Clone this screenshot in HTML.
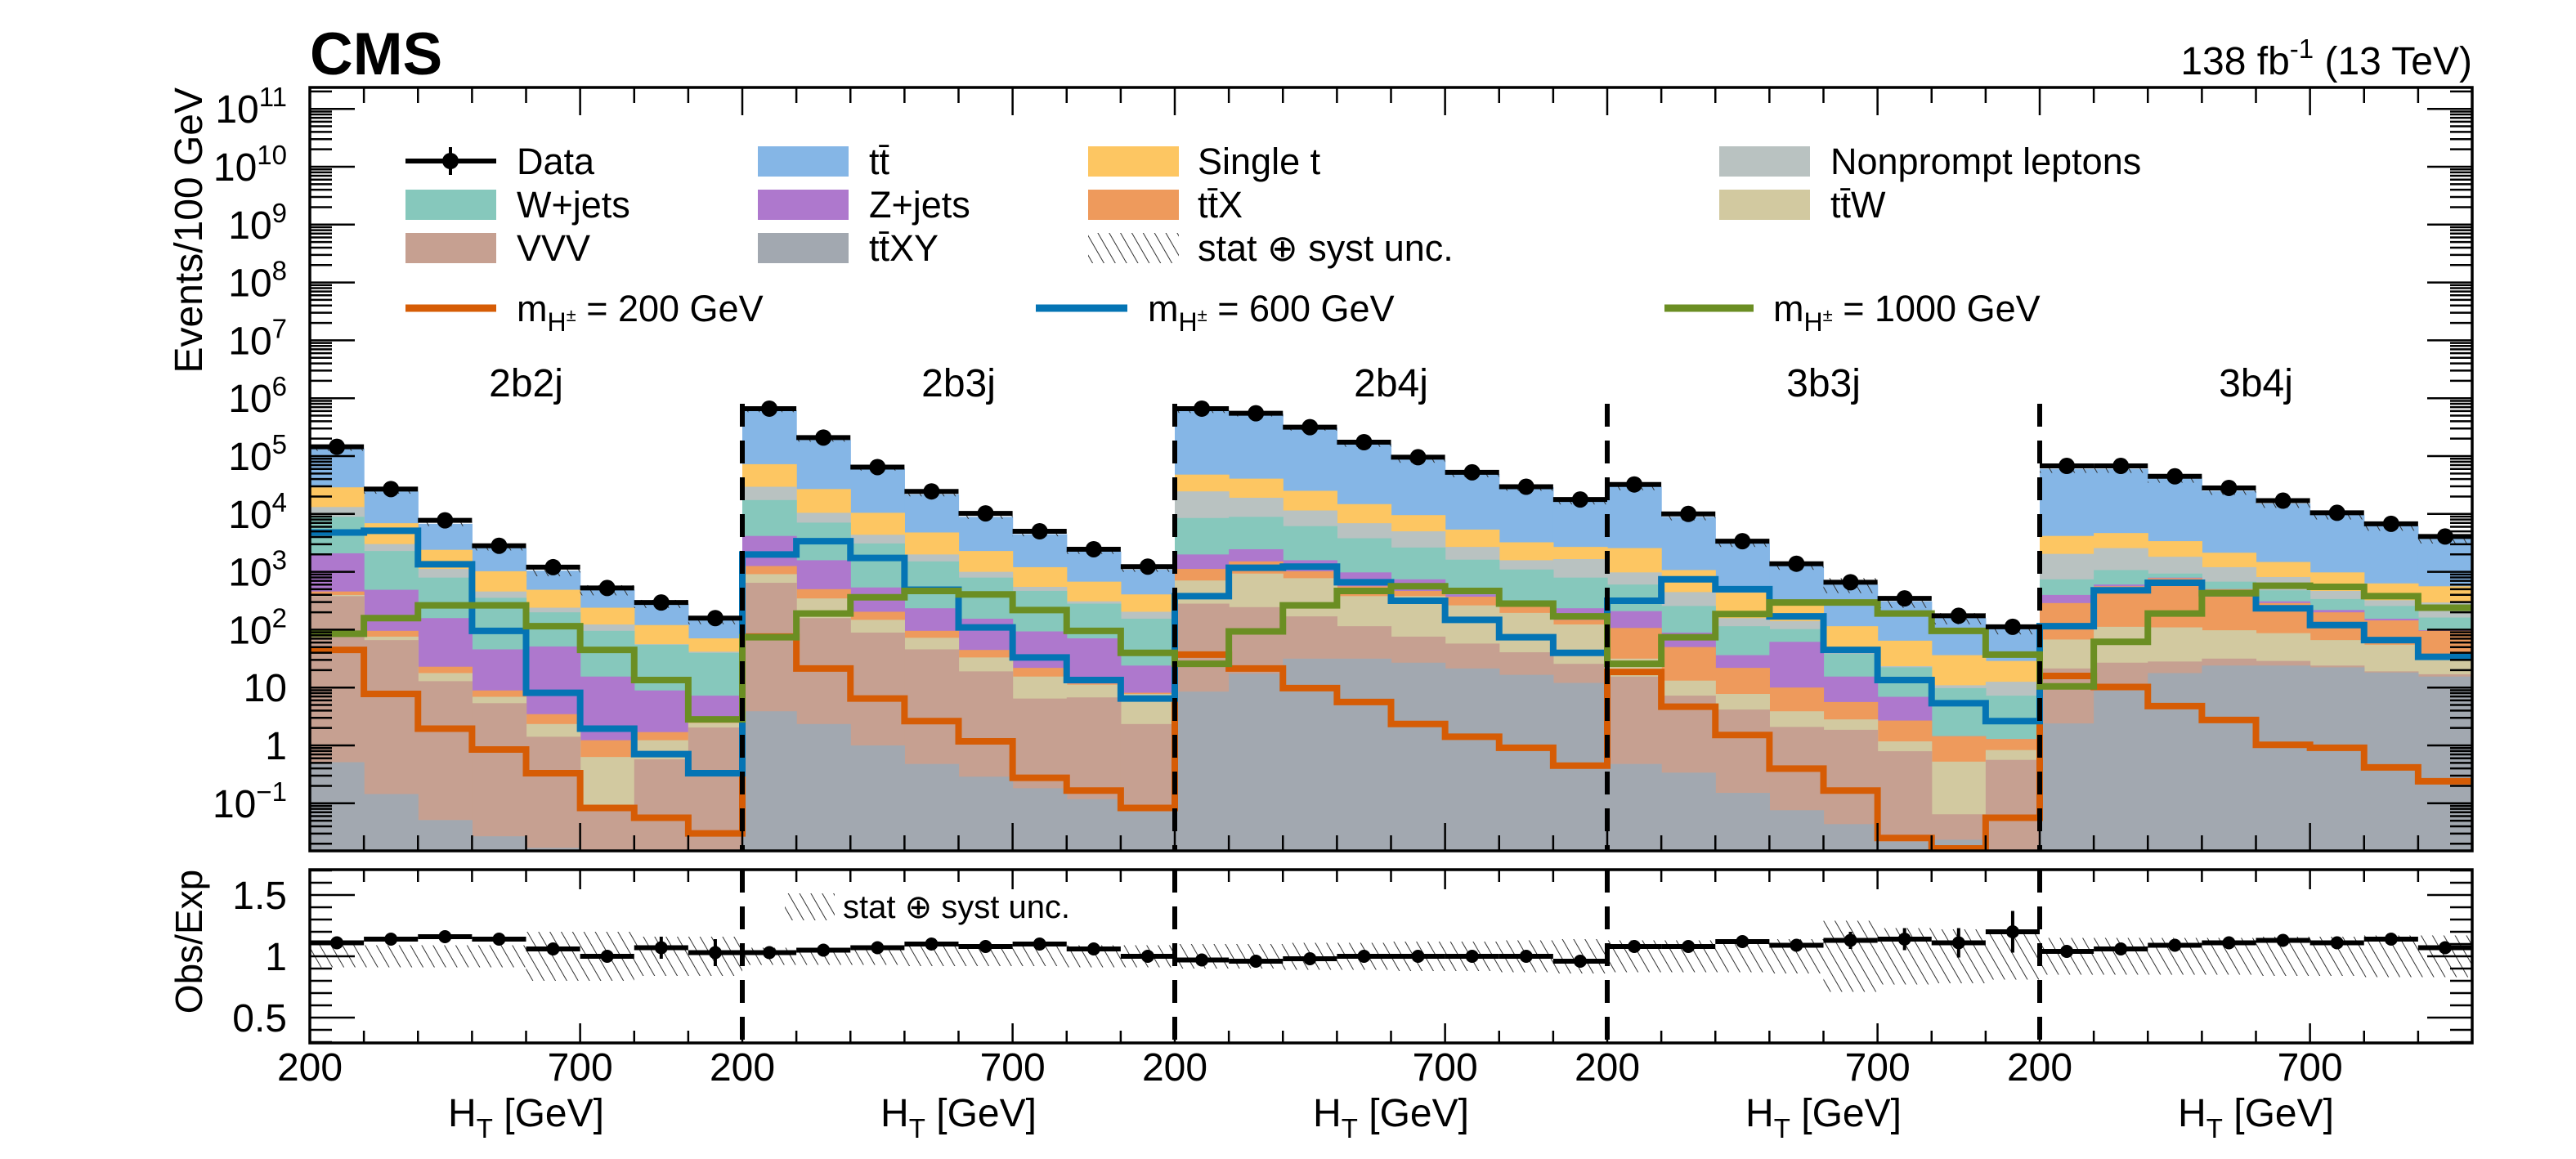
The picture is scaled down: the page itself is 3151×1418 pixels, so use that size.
<!DOCTYPE html>
<html><head><meta charset="utf-8"><title>CMS HT distribution</title>
<style>
html,body{margin:0;padding:0;background:#fff;}
svg{display:block;font-family:"Liberation Sans",Arial,sans-serif;}
</style></head>
<body>
<svg id="chart" width="3151" height="1418" viewBox="0 0 3151 1418" xmlns="http://www.w3.org/2000/svg">
<defs>
<clipPath id="mainClip"><rect x="379" y="107" width="2645" height="934"/></clipPath>
<clipPath id="ratioClip"><rect x="379" y="1064" width="2645" height="212"/></clipPath>
<pattern id="hatch" patternUnits="userSpaceOnUse" width="12" height="12" patternTransform="rotate(-30)">
<line x1="0" y1="0" x2="0" y2="12" stroke="#333" stroke-width="2"/>
</pattern>
</defs>
<rect x="0" y="0" width="3151" height="1418" fill="#fff"/>
<g id="mainStack" clip-path="url(#mainClip)"></g>
<g id="mainSignals" clip-path="url(#mainClip)"></g>
<g id="mainData"></g>
<g id="ratioBand" clip-path="url(#ratioClip)"></g>
<g id="ratioData"></g>
<g id="dividers"></g>
<g id="axes"></g>

<text x="379" y="91" font-size="73" font-weight="bold">CMS</text>
<text x="3024" y="91" font-size="48" text-anchor="end">138 fb<tspan font-size="33" dy="-20">-1</tspan><tspan dy="20"> (13 TeV)</tspan></text>
<text transform="translate(247,107) rotate(-90)" font-size="48" text-anchor="end">Events/100 GeV</text>
<text transform="translate(247,1152) rotate(-90)" font-size="46" text-anchor="middle">Obs/Exp</text>

<g font-size="45">
 <g>
  <line x1="496" y1="197" x2="607" y2="197" stroke="#000" stroke-width="6"/>
  <line x1="551" y1="180" x2="551" y2="214" stroke="#000" stroke-width="4"/>
  <circle cx="551" cy="197" r="10"/>
  <text x="632" y="213">Data</text>
 </g>
 <g><rect x="927" y="179" width="111" height="37" fill="#85b6e6"/><text x="1063" y="213">tt̄</text></g>
 <g><rect x="1331" y="179" width="111" height="37" fill="#fdc662"/><text x="1465" y="213">Single t</text></g>
 <g><rect x="2103" y="179" width="111" height="37" fill="#b9c2c1"/><text x="2239" y="213">Nonprompt leptons</text></g>
 <g><rect x="496" y="232" width="111" height="37" fill="#86c8bc"/><text x="632" y="266">W+jets</text></g>
 <g><rect x="927" y="232" width="111" height="37" fill="#ae78cd"/><text x="1063" y="266">Z+jets</text></g>
 <g><rect x="1331" y="232" width="111" height="37" fill="#ee9a5c"/><text x="1465" y="266">tt̄X</text></g>
 <g><rect x="2103" y="232" width="111" height="37" fill="#d2c9a0"/><text x="2239" y="266">tt̄W</text></g>
 <g><rect x="496" y="285" width="111" height="37" fill="#c6a091"/><text x="632" y="319">VVV</text></g>
 <g><rect x="927" y="285" width="111" height="37" fill="#a2a8b0"/><text x="1063" y="319">tt̄XY</text></g>
 <g><rect x="1331" y="285" width="111" height="37" fill="url(#hatch)"/><text x="1465" y="319">stat ⊕ syst unc.</text></g>
 <g><line x1="496" y1="377" x2="607" y2="377" stroke="#d65c05" stroke-width="9"/><text x="632" y="393">m<tspan font-size="32" dy="12">H<tspan font-size="22" dy="-12">±</tspan></tspan><tspan dy="0"> = 200 GeV</tspan></text></g>
 <g><line x1="1267" y1="377" x2="1379" y2="377" stroke="#0474b4" stroke-width="9"/><text x="1404" y="393">m<tspan font-size="32" dy="12">H<tspan font-size="22" dy="-12">±</tspan></tspan><tspan dy="0"> = 600 GeV</tspan></text></g>
 <g><line x1="2036" y1="377" x2="2145" y2="377" stroke="#6b8e23" stroke-width="9"/><text x="2169" y="393">m<tspan font-size="32" dy="12">H<tspan font-size="22" dy="-12">±</tspan></tspan><tspan dy="0"> = 1000 GeV</tspan></text></g>
</g>
<g>
 <rect x="960" y="1093" width="61" height="33" fill="url(#hatch)"/>
 <text x="1031" y="1123" font-size="40">stat ⊕ syst unc.</text>
</g>
</svg>
<script>
// ---- data (log10 of cumulative stacked events per bin; 5 regions x 8 bins) ----
const regions = ["2b2j","2b3j","2b4j","3b3j","3b4j"];
const xTickLabels = ["200","700"];
const yTickExps = [-1,0,1,2,3,4,5,6,7,8,9,10,11];
const ratioTickLabels = [0.5,1,1.5];
const cumTTXY = [-0.29,-0.84,-1.29,-1.57,-1.77,-1.88,-2.5,-2.5, 0.59,0.37,0.0,-0.32,-0.54,-0.74,-0.93,-1.14, 0.93,1.24,1.5,1.5,1.43,1.33,1.22,1.08, -0.32,-0.47,-0.82,-1.12,-1.36,-1.66,-1.63,-1.84, 0.38,0.95,1.25,1.38,1.38,1.35,1.26,1.19];
const cumVVV = [2.58,1.82,1.11,0.73,0.15,-1.03,-0.24,0.31, 2.81,2.2,1.95,1.66,1.28,0.81,0.83,0.37, 2.45,2.39,2.23,2.06,1.88,1.76,1.61,1.41, 1.19,0.86,0.62,0.32,0.27,-0.1,-1.19,-0.25, 1.33,1.43,1.45,1.5,1.46,1.38,1.28,1.23];
const cumTTW = [2.6,1.88,1.25,0.84,0.37,-0.2,0.09,0.39, 2.96,2.54,2.17,1.86,1.52,1.19,1.05,0.89, 2.85,2.97,2.89,2.58,2.58,2.42,2.29,2.09, 1.5,1.12,0.89,0.59,0.45,0.07,-0.28,-0.08, 1.83,2.05,2.04,1.99,1.94,1.82,1.74,1.49];
const cumTTX = [2.66,1.98,1.36,0.95,0.54,0.09,0.23,0.41, 3.1,2.7,2.31,1.98,1.65,1.34,1.07,0.91, 3.05,3.18,3.01,2.75,2.67,2.57,2.41,2.17, 2.03,1.7,1.34,1.0,0.75,0.43,0.16,0.11, 2.46,2.75,2.89,2.7,2.46,2.3,2.16,1.98];
const cumZJets = [3.32,2.69,2.2,1.66,1.71,1.19,0.95,0.86, 3.62,3.2,2.73,2.37,2.19,1.97,1.85,1.38, 3.3,3.39,3.2,2.99,2.87,2.61,2.42,2.37, 2.32,1.95,1.56,1.79,1.19,0.84,0.16,0.11, 2.6,2.78,2.9,2.7,2.49,2.34,2.19,1.99];
const cumWJets = [3.95,3.36,2.9,2.55,2.3,1.98,1.74,1.6, 4.24,3.85,3.49,3.18,2.9,2.67,2.45,2.19, 3.93,3.95,3.79,3.58,3.42,3.21,3.04,2.9, 2.78,2.41,2.06,2.01,1.58,1.35,0.99,0.86, 2.87,3.03,2.97,2.83,2.68,2.53,2.41,2.21];
const cumNonprompt = [4.12,3.48,3.05,2.66,2.38,2.09,1.75,1.62, 4.47,4.02,3.64,3.3,3.0,2.74,2.49,2.31, 4.39,4.28,4.06,3.84,3.7,3.43,3.2,3.22, 2.99,2.65,2.2,2.15,1.6,1.37,1.04,1.1, 3.31,3.41,3.26,3.08,2.91,2.67,2.51,2.47];
const cumSingleT = [4.46,3.84,3.38,3.01,2.69,2.38,2.08,1.85, 4.86,4.43,4.02,3.68,3.36,3.08,2.83,2.61, 4.68,4.61,4.4,4.17,3.98,3.73,3.51,3.43, 3.41,3.03,2.64,2.42,2.06,1.81,1.56,1.46, 3.62,3.67,3.53,3.33,3.17,2.99,2.8,2.75];
const cumTTbar = [5.13,4.39,3.83,3.41,3.02,2.69,2.45,2.17, 5.79,5.28,4.78,4.34,3.95,3.65,3.35,3.04, 5.79,5.73,5.49,5.21,4.94,4.69,4.46,4.23, 4.47,3.95,3.49,3.1,2.78,2.49,2.2,2.01, 4.78,4.78,4.61,4.4,4.18,3.98,3.79,3.57];
const logData = [5.16,4.43,3.89,3.45,3.08,2.72,2.47,2.2, 5.82,5.32,4.81,4.39,4.01,3.7,3.39,3.09, 5.82,5.74,5.5,5.24,4.98,4.72,4.47,4.25, 4.51,4.0,3.53,3.14,2.82,2.54,2.24,2.05, 4.83,4.83,4.65,4.45,4.23,4.02,3.83,3.61];
const logSig200 = [1.65,0.89,0.29,-0.07,-0.48,-1.08,-1.25,-1.52, 1.88,1.33,0.81,0.42,0.07,-0.56,-0.78,-1.08, 1.57,1.33,0.99,0.75,0.37,0.15,-0.04,-0.35, 1.27,0.67,0.18,-0.4,-0.78,-1.6,-1.95,-1.25, 1.2,1.01,0.68,0.44,0.01,-0.04,-0.38,-0.62];
const logSig600 = [3.68,3.71,3.13,1.98,0.91,0.29,-0.15,-0.48, 3.3,3.53,3.24,2.69,2.04,1.52,1.13,0.81, 2.58,3.07,3.09,2.82,2.5,2.17,1.87,1.6, 2.5,2.87,2.7,2.23,1.65,1.13,0.73,0.42, 2.06,2.68,2.81,2.63,2.37,2.08,1.82,1.53];
const logSig1000 = [1.93,2.2,2.42,2.42,2.06,1.65,1.13,0.45, 1.87,2.28,2.56,2.67,2.61,2.34,1.98,1.6, 1.41,1.97,2.42,2.67,2.75,2.67,2.45,2.23, 1.41,1.87,2.27,2.47,2.47,2.28,1.98,1.57, 1.02,1.79,2.28,2.63,2.76,2.74,2.58,2.38];
const ratioVals = [1.11,1.14,1.16,1.14,1.06,1.0,1.07,1.03, 1.03,1.05,1.07,1.1,1.08,1.1,1.06,1.0, 0.97,0.96,0.98,1.0,1.0,1.0,1.0,0.96, 1.08,1.08,1.12,1.09,1.13,1.14,1.11,1.2, 1.04,1.06,1.09,1.11,1.13,1.11,1.14,1.07];
const ratioErrs = [0.02,0.02,0.02,0.02,0.03,0.03,0.09,0.11, 0.01,0.01,0.02,0.02,0.02,0.02,0.03,0.04, 0.01,0.01,0.01,0.01,0.02,0.02,0.02,0.03, 0.02,0.02,0.02,0.03,0.07,0.09,0.12,0.17, 0.01,0.01,0.01,0.02,0.02,0.02,0.03,0.03];
const bandHalf = [0.09,0.09,0.09,0.09,0.2,0.2,0.16,0.16, 0.07,0.07,0.07,0.08,0.08,0.08,0.09,0.09, 0.1,0.1,0.11,0.11,0.12,0.12,0.13,0.14, 0.13,0.13,0.13,0.14,0.29,0.23,0.22,0.19, 0.15,0.15,0.15,0.15,0.16,0.16,0.17,0.17];

// ---- geometry ----
const NS="http://www.w3.org/2000/svg";
const X0=379, X1=3024, YT=107, YB=1041, RT=1064, RB=1276;
const NB=cumTTbar.length, BPR=8;
const BW=(X1-X0)/NB;
function xBin(i){return X0+i*BW;}
function yMain(L){return 912-70.8*L;}
function yRatio(r){return 1170-150*(r-1);}
const LMIN=(912-YB)/70.8, LMAX=(912-YT)/70.8;
function mk(tag,attrs,parent){const e=document.createElementNS(NS,tag);for(const k in attrs)e.setAttribute(k,attrs[k]);parent.appendChild(e);return e;}

// stack: draw top layer first, lower layers overwrite
const layers=[[cumTTbar,"#85b6e6","ttbar"],[cumSingleT,"#fdc662","single-t"],[cumNonprompt,"#b9c2c1","nonprompt"],[cumWJets,"#86c8bc","wjets"],[cumZJets,"#ae78cd","zjets"],[cumTTX,"#ee9a5c","ttx"],[cumTTW,"#d2c9a0","ttw"],[cumVVV,"#c6a091","vvv"],[cumTTXY,"#a2a8b0","ttxy"]];
const gS=document.getElementById('mainStack');
layers.forEach(function(ly){
  const arr=ly[0];
  for(let i=0;i<NB;i++){
    const y=Math.max(YT,yMain(arr[i]));
    if(y>=YB)continue;
    const r=mk('rect',{x:xBin(i),y:y,width:BW+0.6,height:YB-y,fill:ly[1]},gS);
    
    
  }
});
// stack uncertainty hatch
for(let i=0;i<NB;i++){
  const t=cumTTbar[i];
  const y1=yMain(t+Math.log10(1+bandHalf[i])), y2=yMain(t+Math.log10(1-bandHalf[i]));
  const r=mk('rect',{x:xBin(i),y:y1,width:BW,height:y2-y1,fill:"url(#hatch)"},gS);
  
  
}
// signals
const gSig=document.getElementById('mainSignals');
[[logSig200,"#d65c05","signal-200"],[logSig600,"#0474b4","signal-600"],[logSig1000,"#6b8e23","signal-1000"]].forEach(function(s){
  let d="";
  for(let i=0;i<NB;i++){
    const y=Math.min(YB-3,yMain(s[0][i]));
    d+=(i===0?"M"+xBin(i)+","+y:"V"+y)+"H"+xBin(i+1);
  }
  const p=mk('path',{d:d,fill:"none",stroke:s[1],"stroke-width":8,"stroke-linejoin":"miter"},gSig);
  
  
});
// data
const gD=document.getElementById('mainData');
for(let i=0;i<NB;i++){
  const y=yMain(logData[i]), xc=xBin(i)+BW/2;
  const l=mk('line',{x1:xBin(i),x2:xBin(i+1),y1:y,y2:y,stroke:"#000","stroke-width":6},gD);
  
  
  const c=mk('circle',{cx:xc,cy:y,r:10,fill:"#000"},gD);
  
  
}
// ratio band and points
const gRB=document.getElementById('ratioBand');
for(let i=0;i<NB;i++){
  const y1=yRatio(1+bandHalf[i]), y2=yRatio(1-bandHalf[i]);
  const r=mk('rect',{x:xBin(i),y:y1,width:BW,height:y2-y1,fill:"url(#hatch)"},gRB);
  
  
}
const gR=document.getElementById('ratioData');
for(let i=0;i<NB;i++){
  const y=yRatio(ratioVals[i]), xc=xBin(i)+BW/2;
  const l=mk('line',{x1:xBin(i),x2:xBin(i+1),y1:y,y2:y,stroke:"#000","stroke-width":6},gR);
  
  
  const v=mk('line',{x1:xc,x2:xc,y1:yRatio(ratioVals[i]+ratioErrs[i]),y2:yRatio(ratioVals[i]-ratioErrs[i]),stroke:"#000","stroke-width":4},gR);
  
  
  const c=mk('circle',{cx:xc,cy:y,r:8,fill:"#000"},gR);
  
  
}
// dividers
const gDv=document.getElementById('dividers');
for(let k=1;k<regions.length;k++){
  const x=xBin(k*BPR);
  const a=mk('line',{x1:x,x2:x,y1:494,y2:YB,stroke:"#000","stroke-width":6,"stroke-dasharray":"28 17"},gDv);
  
  
  const b=mk('line',{x1:x,x2:x,y1:RT,y2:RB,stroke:"#000","stroke-width":6,"stroke-dasharray":"28 17"},gDv);
  
  
}
// axes
const gA=document.getElementById('axes');
function ln(x1,y1,x2,y2,w){mk('line',{x1:x1,y1:y1,x2:x2,y2:y2,stroke:"#000","stroke-width":w||2.5},gA);}
const f1=mk('rect',{x:X0,y:YT,width:X1-X0,height:YB-YT,fill:"none",stroke:"#000","stroke-width":3.5},gA);


const f2=mk('rect',{x:X0,y:RT,width:X1-X0,height:RB-RT,fill:"none",stroke:"#000","stroke-width":3.5},gA);


// x ticks
for(let i=0;i<=NB;i++){
  const x=xBin(i), maj=(i%BPR===0||i%BPR===5);
  const lm=maj?34:19, lr=maj?24:15;
  ln(x,YT,x,YT+lm); ln(x,YB,x,YB-lm); ln(x,RT,x,RT+lr); ln(x,RB,x,RB-lr);
}
// log y ticks
for(let k=-2;k<=11;k++){
  for(let m=1;m<=9;m++){
    const L=k+Math.log10(m);
    if(L<LMIN||L>LMAX)continue;
    const y=yMain(L), len=(m===1)?55:27;
    ln(X0,y,X0+len,y); ln(X1,y,X1-len,y);
  }
}
// ratio y ticks
for(let t=3;t<=17;t++){
  const r=t/10, y=yRatio(r);
  if(y<RT||y>RB)continue;
  const len=(t%5===0)?55:27;
  ln(X0,y,X0+len,y); ln(X1,y,X1-len,y);
}
// labels
function txt(s,attrs,name){const e=mk('text',attrs,gA);e.textContent=s;return e;}
yTickExps.forEach(function(k){
  const y=yMain(k)+17;
  if(k===0){txt("1",{x:351,y:y,"font-size":48,"text-anchor":"end"},'y-tick-label');}
  else if(k===1){txt("10",{x:351,y:y,"font-size":48,"text-anchor":"end"},'y-tick-label');}
  else{
    const e=mk('text',{x:351,y:y,"font-size":48,"text-anchor":"end"},gA);
    
    
    const t1=mk('tspan',{},e);t1.textContent="10";
    const t2=mk('tspan',{"font-size":33,dy:-20},e);t2.textContent=(k<0?"\u2212":"")+Math.abs(k);
  }
});
ratioTickLabels.forEach(function(r){
  txt(String(r),{x:351,y:yRatio(r)+17,"font-size":48,"text-anchor":"end"},'ratio-tick-label');
});
regions.forEach(function(name,k){
  const x0=xBin(k*BPR);
  txt(xTickLabels[0],{x:x0,y:1322,"font-size":48,"text-anchor":"middle"},'x-tick-label');
  txt(xTickLabels[1],{x:xBin(k*BPR+5),y:1322,"font-size":48,"text-anchor":"middle"},'x-tick-label');
  const xc=x0+BPR*BW/2;
  txt(name,{x:xc,y:485,"font-size":48,"text-anchor":"middle"},'region-label');
  const e=mk('text',{x:xc,y:1378,"font-size":48,"text-anchor":"middle"},gA);
  
  
  const a=mk('tspan',{},e);a.textContent="H";
  const b=mk('tspan',{"font-size":33,dy:14},e);b.textContent="T";
  const c=mk('tspan',{dy:-14},e);c.textContent=" [GeV]";
});
</script>
</body></html>
